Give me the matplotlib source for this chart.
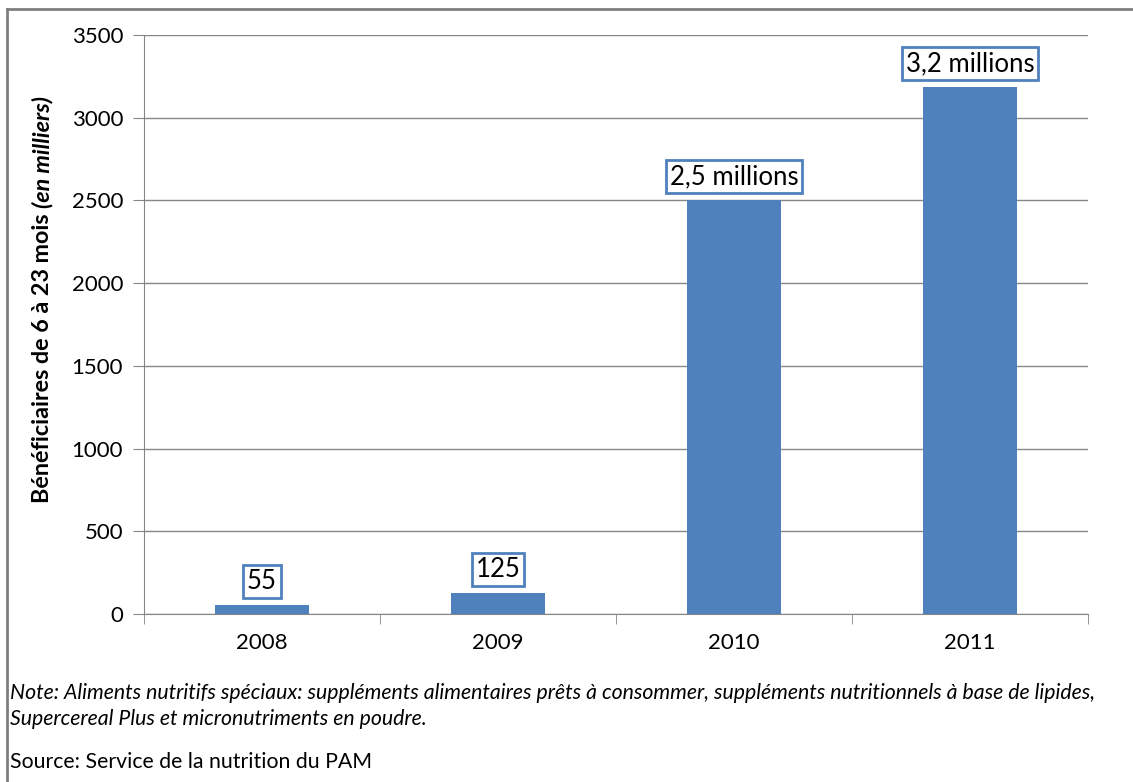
import matplotlib.pyplot as plt
from matplotlib.lines import Line2D

plt.rcParams['font.family'] = ['Lato', 'DejaVu Sans']

years = ['2008', '2009', '2010', '2011']
beneficiaires = [55, 125, 2500, 3185]
labels = ['55', '125', '2,5 millions', '3,2 millions']
yticks = [0, 500, 1000, 1500, 2000, 2500, 3000, 3500]

blue = '#4F81BD'
grey = '#868686'

fig = plt.figure(figsize=(11.33, 7.82), dpi=100)
ax = fig.add_axes([144 / 1133, 1 - 614 / 782, (1088 - 144) / 1133, (614 - 35) / 782])

x = list(range(len(years)))
ax.bar(x, beneficiaires, width=0.4, color=blue, zorder=3)

for xi, val, lab in zip(x, beneficiaires, labels):
    ax.annotate(lab, xy=(xi, val), xytext=(0, 8), textcoords='offset points',
                ha='center', va='bottom', fontsize=18.5, zorder=5,
                bbox=dict(boxstyle='square,pad=0.15', fc='white', ec=blue, lw=2))

# Axes format.
ax.set_xlim(-0.5, 3.5)
ax.set_ylim(0, 3500)
ax.set_yticks(yticks)
ax.set_xticks(x)
ax.set_xticklabels(years)
ax.set_xticks([-0.5, 0.5, 1.5, 2.5, 3.5], minor=True)
ax.tick_params(axis='x', which='major', length=0, pad=14, labelsize=16)
ax.tick_params(axis='x', which='minor', length=7, color=grey)
ax.tick_params(axis='y', length=8, color=grey, pad=7, labelsize=16)
ax.yaxis.grid(True, color=grey, lw=1, zorder=0)
for s in ['top', 'right']:
    ax.spines[s].set_visible(False)
for s in ['left', 'bottom']:
    ax.spines[s].set_color(grey)

# Y label with italic part.
t1 = fig.text(43 / 1133, 1 - 503 / 782, 'Bénéficiaires de 6 à 23 mois ', rotation=90,
              ha='center', va='bottom', fontsize=16.8, fontweight='bold')
ax.annotate('(en milliers)', xy=(0.5, 1), xycoords=t1, rotation=90, ha='center',
            va='bottom', fontsize=16.8, fontweight='bold', fontstyle='italic')

# Notes.
fig.text(10 / 1133, 1 - 693 / 782,
         'Note: Aliments nutritifs spéciaux: suppléments alimentaires prêts à consommer, '
         'suppléments nutritionnels à base de lipides,',
         ha='left', va='center', fontsize=15.3, fontstyle='italic')
fig.text(10 / 1133, 1 - 719 / 782, 'Supercereal Plus et micronutriments en poudre.',
         ha='left', va='center', fontsize=15.3, fontstyle='italic')
fig.text(10 / 1133, 1 - 762 / 782, 'Source: Service de la nutrition du PAM',
         ha='left', va='center', fontsize=15.3)

# Outer frame.
fig.add_artist(Line2D([7 / 1133, 7 / 1133], [0, 1 - 9 / 782], color='#808080', lw=2))
fig.add_artist(Line2D([7 / 1133, 1], [1 - 9 / 782, 1 - 9 / 782], color='#808080', lw=2))

fig.savefig('out.png', dpi=100)
